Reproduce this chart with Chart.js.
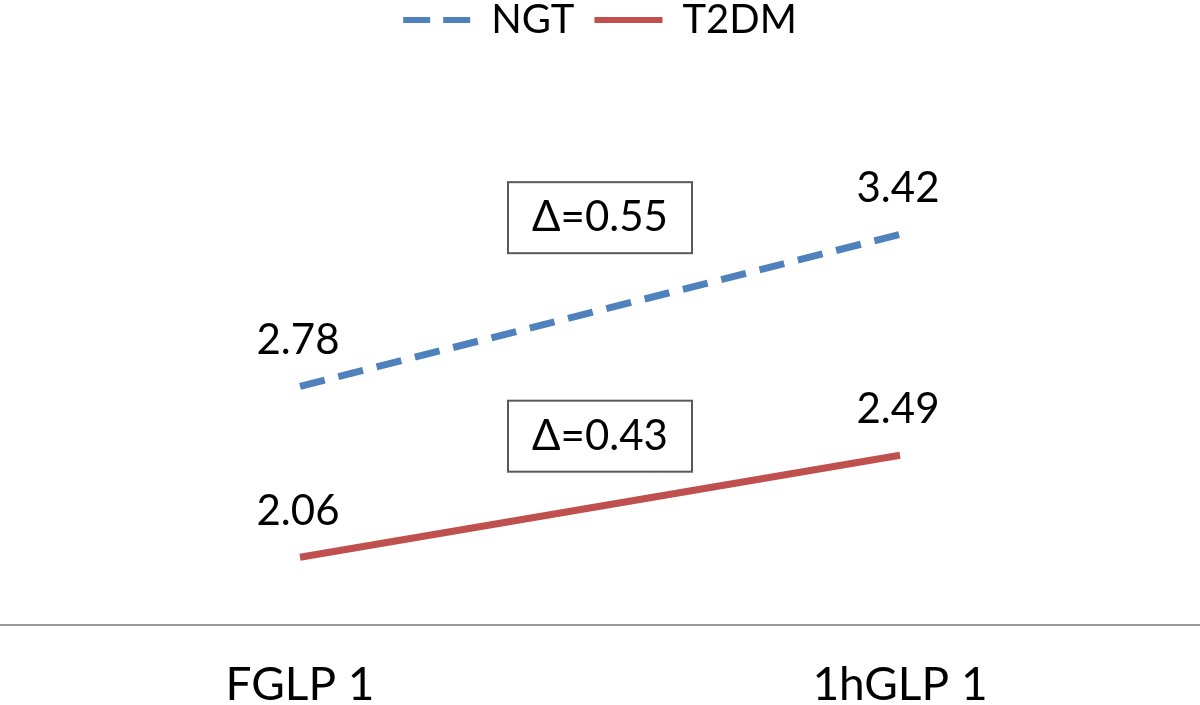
<!DOCTYPE html>
<html><head><meta charset="utf-8">
<script src="https://cdn.jsdelivr.net/npm/chart.js@4.4.0/dist/chart.umd.min.js"></script>
<style>html,body{margin:0;padding:0;background:#fff;overflow:hidden;}</style>
</head><body>
<canvas id="c" width="1200" height="705"></canvas>
<script>
// ---- data ----
const categories = ['FGLP 1', '1hGLP 1'];
const seriesNames = ['NGT', 'T2DM'];
const ngtValues = [2.78, 3.42];
const t2dmValues = [2.06, 2.49];
const deltaLabels = ['\u0394=0.55', '\u0394=0.43'];
const deltaX = [0.5, 0.5];      // category-axis position of box centres
const deltaY = [3.49, 2.57];    // value-axis position of box centres
const yMin = 1.775;
const yMax = 4.196;

const FONT = 'Lato, "Open Sans", sans-serif';

const overlayPlugin = {
  id: 'overlay',
  afterDatasetsDraw(chart) {
    const ctx = chart.ctx;
    ctx.save();
    ctx.font = '42px ' + FONT;
    ctx.fillStyle = '#000';
    ctx.textAlign = 'center';
    ctx.textBaseline = 'alphabetic';
    chart.data.datasets.forEach((ds, i) => {
      chart.getDatasetMeta(i).data.forEach((pt, j) => {
        ctx.fillText(ds.data[j].toFixed(2), pt.x - 2, pt.y - 32);
      });
    });
    const xs = chart.scales.x, ys = chart.scales.y;
    const bw = 184, bh = 71;
    deltaLabels.forEach((t, k) => {
      const cx = xs.getPixelForValue(deltaX[k]);
      const cy = ys.getPixelForValue(deltaY[k]);
      ctx.fillStyle = '#fff';
      ctx.fillRect(cx - bw / 2, cy - bh / 2, bw, bh);
      ctx.strokeStyle = '#595959';
      ctx.lineWidth = 2;
      ctx.strokeRect(cx - bw / 2, cy - bh / 2, bw, bh);
      ctx.fillStyle = '#000';
      ctx.textBaseline = 'middle';
      ctx.fillText(t, cx, cy);
    });
    ctx.restore();
  }
};

new Chart(document.getElementById('c'), {
  type: 'line',
  data: {
    labels: categories,
    datasets: [
      { label: seriesNames[0], data: ngtValues, borderColor: '#4F81BD', backgroundColor: '#4F81BD',
        borderWidth: 7, borderDash: [25.5, 14], pointRadius: 0, tension: 0, fill: false },
      { label: seriesNames[1], data: t2dmValues, borderColor: '#C0504D', backgroundColor: '#C0504D',
        borderWidth: 7, pointRadius: 0, tension: 0, fill: false }
    ]
  },
  options: {
    responsive: false,
    animation: false,
    devicePixelRatio: 1,
    layout: { padding: { top: -20, bottom: -40, left: 0, right: 0 } },
    plugins: {
      legend: {
        display: true, position: 'top',
        labels: {
          usePointStyle: true, pointStyle: 'line', pointStyleWidth: 68, padding: 20,
          color: '#000', font: { family: FONT, size: 40 },
          generateLabels(chart) {
            const items = Chart.defaults.plugins.legend.labels.generateLabels(chart);
            items.forEach((it) => {
              const ds = chart.data.datasets[it.datasetIndex];
              it.lineDash = ds.borderDash ? [27, 13] : [];
              it.lineWidth = 6;
              it.strokeStyle = ds.borderColor;
              it.pointStyle = 'line';
            });
            return items;
          }
        }
      },
      tooltip: { enabled: false }
    },
    scales: {
      x: {
        offset: true,
        grid: { display: true, color: 'rgba(0,0,0,0)', drawTicks: false },
        border: { display: true, color: '#9a9a9a', width: 2 },
        ticks: { color: '#000', padding: 37, font: { family: FONT, size: 46, lineHeight: 1 } }
      },
      y: { display: false, min: yMin, max: yMax }
    }
  },
  plugins: [overlayPlugin]
});
</script>
</body></html>
